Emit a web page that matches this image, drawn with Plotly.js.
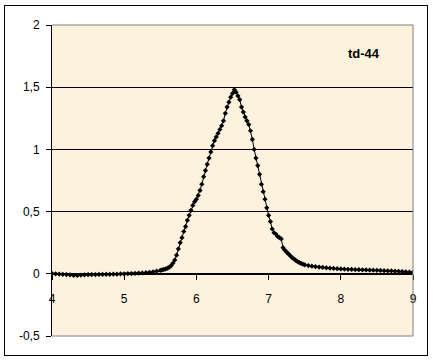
<!DOCTYPE html>
<html>
<head>
<meta charset="utf-8">
<script src="https://cdn.plot.ly/plotly-3.0.1.min.js"></script>
<style>
html,body{margin:0;padding:0;background:#fff;}
#chart{width:433px;height:363px;position:relative;}
#frame{position:absolute;left:4px;top:5px;width:422px;height:349px;border:1px solid #000;pointer-events:none;}
</style>
</head>
<body>
<div id="chart"></div>
<div id="frame"></div>
<script>
var xLeft = [4.00,4.05,4.10,4.15,4.20,4.25,4.30,4.35,4.40,4.45,4.50,4.55,4.60,4.65,4.70,4.75,4.80,4.85,4.90,4.95,5.00,5.05,5.10,5.15,5.20,5.25,5.30,5.35,5.40,5.45,5.50];
var yLeft = [0.002,0.000,-0.002,-0.004,-0.006,-0.008,-0.012,-0.013,-0.010,-0.008,-0.007,-0.006,-0.006,-0.005,-0.005,-0.004,-0.004,-0.003,-0.003,-0.001,0.000,0.001,0.002,0.003,0.005,0.007,0.009,0.012,0.016,0.021,0.027];

var xPeak = [5.525,5.55,5.575,5.6,5.625,5.65,5.675,5.7,5.725,5.75,5.775,5.8,5.825,5.85,5.875,5.9,5.925,5.95,5.975,6.0,6.025,6.05,6.075,6.1,6.125,6.15,6.175,6.2,6.225,6.25,6.275,6.3,6.325,6.35,6.375,6.4,6.425,6.45,6.475,6.5,6.525,6.55,6.575,6.6,6.625,6.65,6.675,6.7,6.725,6.75,6.775,6.8,6.825,6.85,6.875,6.9,6.925,6.95,6.975,7.0,7.025,7.05,7.075,7.1,7.125,7.15,7.175,7.2,7.225,7.25,7.275,7.3,7.325,7.35,7.375,7.4,7.425,7.45,7.475,7.5];
var yPeak = [0.031,0.035,0.039,0.045,0.053,0.065,0.085,0.11,0.15,0.20,0.25,0.29,0.34,0.38,0.43,0.47,0.51,0.55,0.58,0.60,0.63,0.67,0.72,0.78,0.83,0.88,0.93,0.98,1.03,1.07,1.10,1.13,1.16,1.19,1.23,1.29,1.34,1.38,1.42,1.45,1.48,1.46,1.43,1.40,1.34,1.30,1.26,1.23,1.20,1.15,1.08,1.00,0.93,0.87,0.80,0.72,0.66,0.60,0.53,0.47,0.42,0.36,0.33,0.32,0.30,0.29,0.28,0.21,0.19,0.175,0.16,0.145,0.13,0.12,0.108,0.098,0.09,0.083,0.077,0.072];

var xRight = [7.55,7.6,7.65,7.7,7.75,7.8,7.85,7.9,7.95,8.0,8.05,8.1,8.15,8.2,8.25,8.3,8.35,8.4,8.45,8.5,8.55,8.6,8.65,8.7,8.75,8.8,8.85,8.9,8.95,9.0];
var yRight = [0.066,0.061,0.057,0.054,0.051,0.048,0.045,0.043,0.041,0.039,0.038,0.036,0.035,0.034,0.033,0.032,0.031,0.030,0.029,0.028,0.027,0.025,0.024,0.023,0.021,0.020,0.018,0.016,0.014,0.012];

var xTickVals = [4,5,6,7,8,9];
var xTickText = ['4','5','6','7','8','9'];
var yTickVals = [-0.5,0,0.5,1,1.5,2];
var yTickText = ['-0,5','0','0,5','1','1,5','2'];
var seriesLabel = 'td-44';

var xs = xLeft.concat(xPeak, xRight);
var ys = yLeft.concat(yPeak, yRight);

var trace = {
  x: xs, y: ys, type: 'scatter', mode: 'lines+markers',
  line: {color: '#000', width: 1},
  marker: {symbol: 'diamond', size: 4, color: '#000'},
  hoverinfo: 'none'
};

var font = {family: 'Liberation Sans, Arial, sans-serif', size: 12, color: '#000'};

var layout = {
  width: 433, height: 363,
  margin: {l: 52, r: 20, t: 25, b: 27, pad: 0},
  paper_bgcolor: '#ffffff',
  plot_bgcolor: '#FCF2DD',
  showlegend: false,
  font: font,
  xaxis: {
    range: [4, 9], anchor: 'free', position: 0.2,
    tickvals: xTickVals, ticktext: xTickText,
    showline: true, linecolor: '#000', linewidth: 1,
    ticks: 'outside', ticklen: 5, tickcolor: '#000', tickwidth: 1,
    ticklabelstandoff: 9,
    showgrid: false, zeroline: false, tickfont: font
  },
  yaxis: {
    range: [-0.5, 2],
    tickvals: yTickVals, ticktext: yTickText,
    showline: true, linecolor: '#000', linewidth: 1,
    ticks: 'outside', ticklen: 5, tickcolor: '#000', tickwidth: 1,
    ticklabelstandoff: 4,
    showgrid: true, gridcolor: '#000', gridwidth: 1,
    zeroline: false, tickfont: font
  },
  shapes: [
    {type: 'line', xref: 'paper', yref: 'paper', x0: 0, x1: 1, y0: 1, y1: 1, line: {color: '#808080', width: 1}, layer: 'above'},
    {type: 'line', xref: 'paper', yref: 'paper', x0: 1, x1: 1, y0: 0, y1: 1, line: {color: '#808080', width: 1}, layer: 'above'},
    {type: 'line', xref: 'paper', yref: 'paper', x0: 0, x1: 1, y0: 0, y1: 0, line: {color: '#808080', width: 1}, layer: 'above'}
  ],
  annotations: [
    {text: '<b>' + seriesLabel + '</b>', xref: 'paper', yref: 'paper',
     x: (364 - 52) / 361, y: (336 - 53) / 311, xanchor: 'center', yanchor: 'middle',
     showarrow: false, font: {family: 'Liberation Sans, Arial, sans-serif', size: 13, color: '#000'}}
  ]
};

Plotly.newPlot('chart', [trace], layout, {displayModeBar: false, staticPlot: true});
</script>
</body>
</html>
